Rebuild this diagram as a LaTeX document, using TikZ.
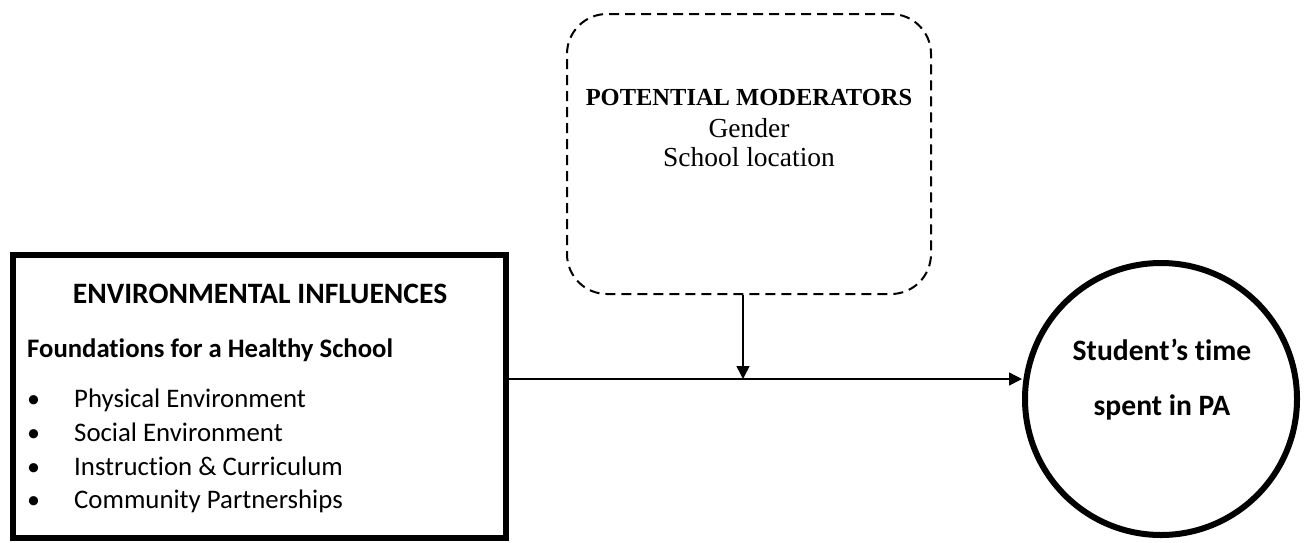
\documentclass[tikz,border=0pt]{standalone}
\usepackage{fontspec}
\setmainfont[Ligatures={NoCommon}]{Carlito}
\newfontfamily\serifmod{Liberation Serif}
\usetikzlibrary{arrows.meta}
\tikzset{
  thickbox/.style={draw, line width=6pt, inner sep=0pt},
  modbox/.style={draw, line width=2pt, dash pattern=on 10pt off 6pt, rounded corners=40pt, inner sep=0pt},
  conn/.style={line width=1.5pt, -{Triangle[length=13pt,width=13pt]}},
  bodytxt/.style={font=\fontsize{26.8}{30}\selectfont, anchor=base west, inner sep=0pt},
  bul/.style={font=\fontsize{26}{30}\selectfont, anchor=base west, inner sep=0pt},
  headtxt/.style={font=\bfseries\fontsize{29.6}{32}\selectfont, anchor=base, inner sep=0pt},
}
\begin{document}
\begin{tikzpicture}[x=1pt,y=-1pt]
\useasboundingbox (0,0) rectangle (1309,542);
% left box
\node[thickbox, minimum width=493pt, minimum height=283pt] (env) at (259.5,396.5) {};
\node[headtxt] (envt) at (260,303) {ENVIRONMENTAL INFLUENCES};
\node[font=\bfseries\fontsize{26.7}{30}\selectfont, anchor=base west, inner sep=0pt] (found) at (27,357) {Foundations for a Healthy School};
\node[bul] (b1) at (27,407) {\textbullet};
\node[bul] (b2) at (27,441) {\textbullet};
\node[bul] (b3) at (27,475) {\textbullet};
\node[bul] (b4) at (27,508) {\textbullet};
\node[bodytxt] (i1) at (74,407) {Physical Environment};
\node[bodytxt] (i2) at (74,441) {Social Environment};
\node[bodytxt] (i3) at (74,475) {Instruction \& Curriculum};
\node[bodytxt] (i4) at (74,508) {Community Partnerships};
% moderators
\node[modbox, minimum width=364pt, minimum height=280pt] (mod) at (749,154) {};
\node[font=\serifmod\bfseries\fontsize{24.5}{30}\selectfont, anchor=base, inner sep=0pt] (modt) at (749,105) {POTENTIAL MODERATORS};
\node[font=\serifmod\fontsize{27.5}{30}\selectfont, anchor=base, inner sep=0pt] (g) at (749,137) {Gender};
\node[font=\serifmod\fontsize{27.5}{30}\selectfont, anchor=base, inner sep=0pt] (sl) at (749,166) {School location};
% outcome circle
\node[circle, draw, line width=6pt, minimum size=272pt, inner sep=0pt] (pa) at (1161,399) {};
\node[headtxt] (pa1) at (1162,360) {Student’s time};
\node[headtxt] (pa2) at (1162,415) {spent in PA};
% connectors
\coordinate (j) at (743,379);
\draw[conn] (j -| env.east) -- (j -| pa.west);
\draw[conn] (j |- mod.south) -- (j);
\end{tikzpicture}
\end{document}
